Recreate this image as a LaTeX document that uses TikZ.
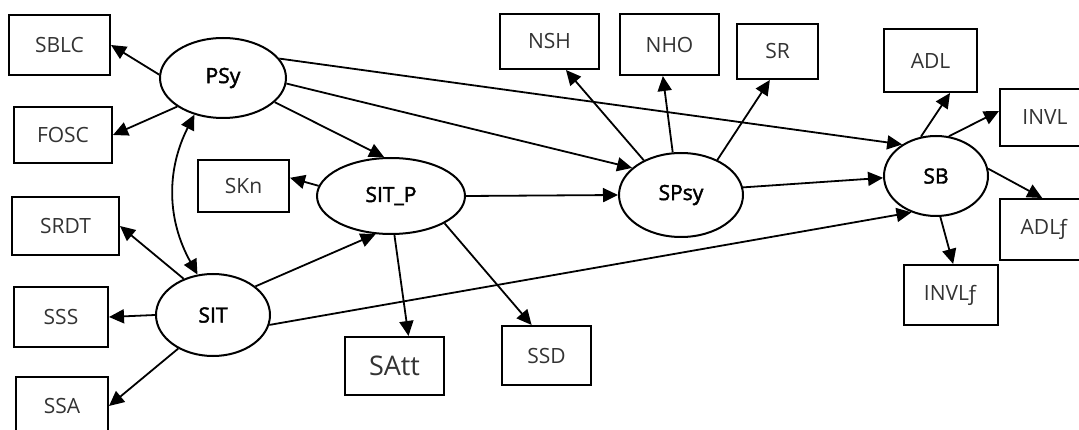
\documentclass[tikz,border=0pt]{standalone}
\usepackage{fontspec}
\setmainfont{Open Sans}
\newfontfamily\ellfont{Open Sans}[FakeBold=2]
\usetikzlibrary{shapes.geometric,arrows.meta}
\tikzset{
  boxn/.style={draw, line width=2pt, rectangle, inner sep=0pt, font=\fontsize{21}{25}\selectfont, text=black!80},
  elln/.style={draw, line width=2pt, ellipse, inner sep=0pt, font=\ellfont\fontsize{21}{25}\selectfont},
  conn/.style={line width=1.8pt, -{Triangle[length=15pt,width=14pt]}},
  dconn/.style={line width=1.8pt, {Triangle[length=15pt,width=14pt]}-{Triangle[length=15pt,width=14pt]}}
}
\begin{document}
\begin{tikzpicture}[x=1pt,y=-1pt]
\useasboundingbox (0,0) rectangle (1079,430);
\clip (0,0) rectangle (1079,430);
\fill[white] (0,0) rectangle (1079,430);
% boxes
\node[boxn, minimum width=101pt, minimum height=60pt] (SBLC) at (59.5,45) {SBLC};
\node[boxn, minimum width=98pt, minimum height=56pt] (FOSC) at (63,135) {FOSC};
\node[boxn, minimum width=107pt, minimum height=58pt] (SRDT) at (65.5,226) {SRDT};
\node[boxn, minimum width=94pt, minimum height=60pt] (SSS) at (61,317) {SSS};
\node[boxn, minimum width=92pt, minimum height=58pt] (SSA) at (62,406) {SSA};
\node[boxn, minimum width=91pt, minimum height=52pt] (SKn) at (243.5,186) {SKn};
\node[boxn, minimum width=99pt, minimum height=58pt, font=\fontsize{27}{31}\selectfont] (SAtt) at (394.5,366) {\raisebox{-5pt}{SAtt}};
\node[boxn, minimum width=89pt, minimum height=59pt] (SSD) at (546.5,355.5) {SSD};
\node[boxn, minimum width=99pt, minimum height=55pt] (NSH) at (549.5,41.5) {\raisebox{-4pt}{NSH}};
\node[boxn, minimum width=99pt, minimum height=61pt] (NHO) at (669.5,44.5) {NHO};
\node[boxn, minimum width=81pt, minimum height=55pt] (SR) at (777.5,51.5) {\raisebox{-5pt}{SR}};
\node[boxn, minimum width=93pt, minimum height=63pt] (ADL) at (930.5,60.5) {ADL};
\node[boxn, minimum width=90pt, minimum height=57pt] (INVL) at (1045,117.5) {INVL};
\node[boxn, minimum width=90pt, minimum height=61pt] (ADLf) at (1045,229.5) {ADL\kern-3ptƒ};
\node[boxn, minimum width=94pt, minimum height=60pt] (INVLf) at (951,295) {INVL\kern-3ptƒ};
% ellipses
\node[elln, minimum width=126pt, minimum height=80pt] (PSy) at (223,78) {PSy};
\node[elln, minimum width=114pt, minimum height=82pt] (SIT) at (213,315) {SIT};
\node[elln, minimum width=148pt, minimum height=76pt] (SITP) at (391,196) {SIT\_P};
\node[elln, minimum width=124pt, minimum height=84pt] (SPsy) at (681,195) {SPsy};
\node[elln, minimum width=104pt, minimum height=80pt] (SB) at (936,176) {SB};
% connectors
\draw[conn] (PSy.177) -- (SBLC.east);
\draw[conn] (PSy.212) -- (FOSC.east);
\draw[dconn] (SIT.111) to[bend left=28] (PSy.232);
\draw[conn] (PSy.-25) -- (SITP.100);
\draw[conn] (PSy.-5) -- (SPsy.151);
\draw[conn] (PSy.19) -- (SB.137);
\draw[conn] (SITP.172) -- (SKn.10);
\draw[conn] (SITP.east) -- (SPsy.west);
\draw[conn] (SITP.-85) -- (SAtt.65);
\draw[conn] (SITP.-27) -- (SSD.116);
\draw[conn] (SIT.129) -- (SRDT.east);
\draw[conn] (SIT.west) -- (SSS.east);
\draw[conn] (SIT.224) -- (SSA.east);
\draw[conn] (SIT.34) -- (SITP.248);
\draw[conn] (SIT.-10) -- (SB.236);
\draw[conn] (SPsy.137) -- (NSH.300);
\draw[conn] (SPsy.101) -- (NHO.258);
\draw[conn] (SPsy.44) -- (SR.255);
\draw[conn] (SPsy.7) -- (SB.182);
\draw[conn] (SB.111) -- (ADL.301);
\draw[conn] (SB.72) -- (INVL.172);
\draw[conn] (SB.8) -- (ADLf.95);
\draw[conn] (SB.-84) -- (INVLf.86);
\end{tikzpicture}
\end{document}
